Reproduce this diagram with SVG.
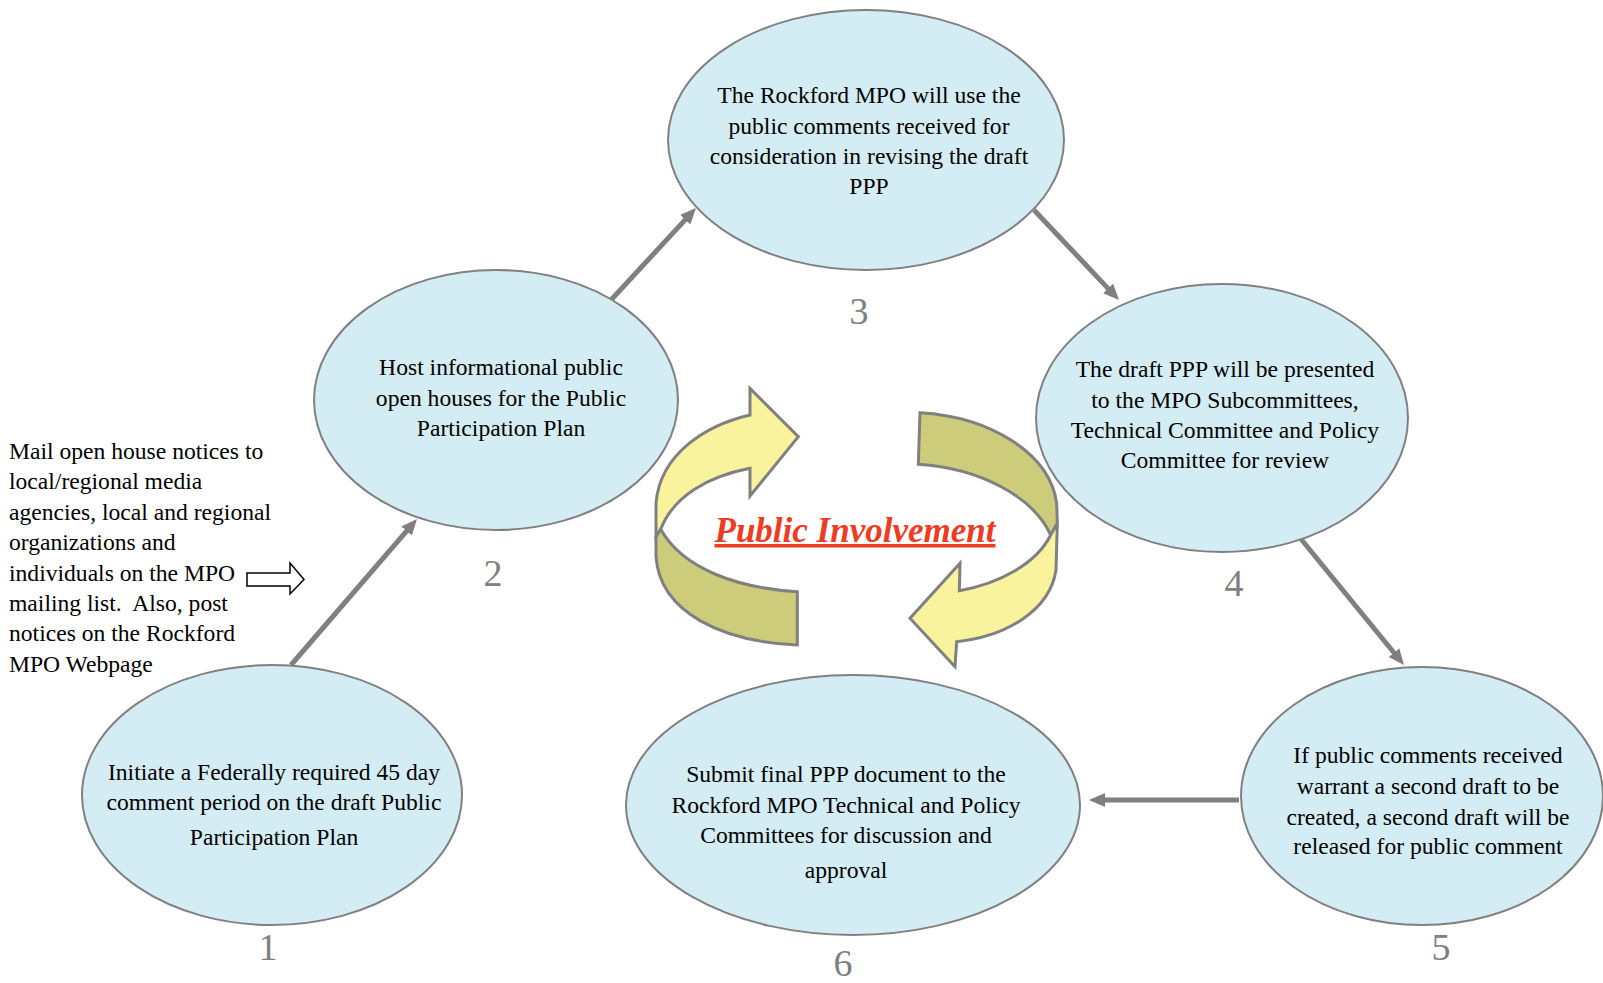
<svg xmlns="http://www.w3.org/2000/svg" width="1603" height="983" viewBox="0 0 1603 983">
<defs>
<style>
.node ellipse{fill:#D4ECF3;stroke:#808080;stroke-width:2}
.t{font-family:"Liberation Serif","Times New Roman",serif;font-size:23.6px;fill:#000;text-anchor:middle}
.lt{font-family:"Liberation Serif","Times New Roman",serif;font-size:23.6px;fill:#000}
.num{font-family:"Liberation Serif","Times New Roman",serif;font-size:38px;fill:#808080;text-anchor:middle}
.conn{stroke:#808080;stroke-width:5;fill:none;marker-end:url(#ah)}
.light{fill:#F8F39C;stroke:#808080;stroke-width:9;stroke-linejoin:miter}
.dark{fill:#CCCC7A;stroke:#808080;stroke-width:9;stroke-linejoin:miter}
</style>
<marker id="ah" viewBox="0 0 16 14" refX="3" refY="7" markerWidth="16" markerHeight="14" orient="auto" markerUnits="userSpaceOnUse">
<path d="M0,0 L16,7 L0,14 Z" fill="#808080"/>
</marker>
</defs>
<rect width="1603" height="983" fill="#fff"/>

<g id="connectors">
<line class="conn" x1="291" y1="665" x2="408.5" y2="528.8"/>
<line class="conn" x1="611" y1="300" x2="687.2" y2="217.6"/>
<line class="conn" x1="1034" y1="210" x2="1110.1" y2="290.6"/>
<line class="conn" x1="1301" y1="539" x2="1395.8" y2="655"/>
<line class="conn" x1="1239" y1="800" x2="1102" y2="800"/>
</g>

<g id="node1" class="node">
<ellipse cx="272" cy="795" rx="190" ry="130"/>
<text class="t" x="274" y="780">Initiate a Federally required 45 day</text>
<text class="t" x="274" y="810">comment period on the draft Public</text>
<text class="t" x="274" y="845">Participation Plan</text>
<text class="num" x="268" y="960">1</text>
</g>

<g id="node2" class="node">
<ellipse cx="496" cy="400" rx="182" ry="130"/>
<text class="t" x="501" y="375">Host informational public</text>
<text class="t" x="501" y="406">open houses for the Public</text>
<text class="t" x="501" y="436">Participation Plan</text>
<text class="num" x="493" y="586">2</text>
</g>

<g id="node3" class="node">
<ellipse cx="866" cy="140" rx="198" ry="130"/>
<text class="t" x="869" y="103">The Rockford MPO will use the</text>
<text class="t" x="869" y="134">public comments received for</text>
<text class="t" x="869" y="164">consideration in revising the draft</text>
<text class="t" x="869" y="194">PPP</text>
<text class="num" x="859" y="324">3</text>
</g>

<g id="node4" class="node">
<ellipse cx="1222" cy="418" rx="186" ry="134"/>
<text class="t" x="1225" y="377">The draft PPP will be presented</text>
<text class="t" x="1225" y="408">to the MPO Subcommittees,</text>
<text class="t" x="1225" y="438">Technical Committee and Policy</text>
<text class="t" x="1225" y="468">Committee for review</text>
<text class="num" x="1234" y="596">4</text>
</g>

<g id="node5" class="node">
<ellipse cx="1422" cy="796" rx="181" ry="129"/>
<text class="t" x="1428" y="763">If public comments received</text>
<text class="t" x="1428" y="794">warrant a second draft to be</text>
<text class="t" x="1428" y="825">created, a second draft will be</text>
<text class="t" x="1428" y="854">released for public comment</text>
<text class="num" x="1441" y="960">5</text>
</g>

<g id="node6" class="node">
<ellipse cx="853" cy="805" rx="227" ry="130"/>
<text class="t" x="846" y="782">Submit final PPP document to the</text>
<text class="t" x="846" y="813">Rockford MPO Technical and Policy</text>
<text class="t" x="846" y="843">Committees for discussion and</text>
<text class="t" x="846" y="878">approval</text>
<text class="num" x="843" y="976">6</text>
</g>

<g id="note">
<text class="lt" x="9" y="459">Mail open house notices to</text>
<text class="lt" x="9" y="489">local/regional media</text>
<text class="lt" x="9" y="520">agencies, local and regional</text>
<text class="lt" x="9" y="550">organizations and</text>
<text class="lt" x="9" y="581">individuals on the MPO</text>
<text class="lt" x="9" y="611">mailing list.&#160; Also, post</text>
<text class="lt" x="9" y="641">notices on the Rockford</text>
<text class="lt" x="9" y="672">MPO Webpage</text>
<polygon points="247,573 290,573 290,563 304,579.5 290,594 290,586 247,586" fill="#fff" stroke="#000" stroke-width="1.5"/>
</g>

<g id="cycle" transform="translate(640,370) scale(0.33333)">
<path class="light" d="M330,135 L330,55 L475,200 L330,378 L330,295 C200,320 100,380 62,478 L48,500 L48,400 C60,250 200,165 330,135 Z"/>
<path class="dark" d="M62,478 C130,600 300,655 472,665 L472,825 C250,815 60,730 48,560 L48,500 Z"/>
<path class="dark" d="M840,128 C1050,140 1230,250 1250,400 L1252,460 L1232,495 C1180,380 1020,295 835,283 Z"/>
<path class="light" d="M1232,495 L1252,460 L1248,600 C1230,720 1100,800 950,815 L945,890 L810,745 L960,580 L958,662 C1080,640 1190,580 1232,495 Z"/>
</g>

<text id="title" x="855" y="542" font-family="'Liberation Serif','Times New Roman',serif" font-size="35" font-weight="bold" font-style="italic" fill="#EE3B23" text-anchor="middle" text-decoration="underline">Public Involvement</text>
</svg>
